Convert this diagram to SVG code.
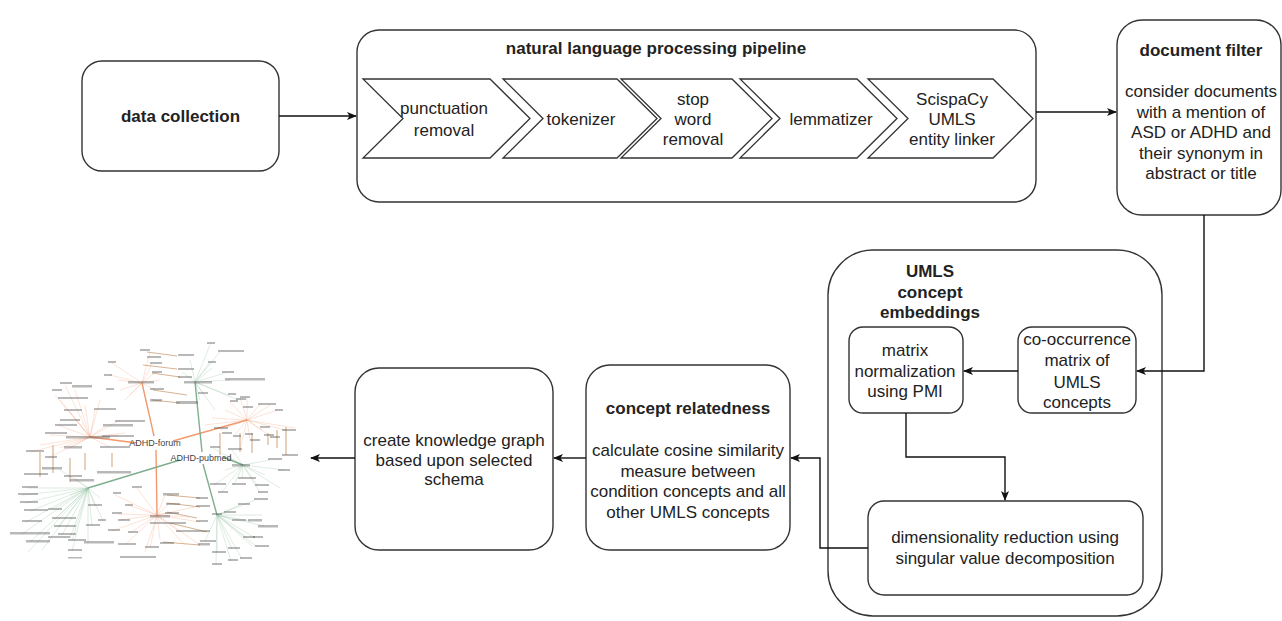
<svg xmlns="http://www.w3.org/2000/svg" width="1282" height="621" viewBox="0 0 1282 621">
<defs>
<marker id="arr" viewBox="0 0 10 10" refX="9" refY="5" markerWidth="10" markerHeight="10" markerUnits="userSpaceOnUse" orient="auto">
<path d="M0,1 L10,5 L0,9 L2.5,5 Z" fill="#111"/>
</marker>
</defs>
<style>
.box{fill:#fff;stroke:#333;stroke-width:1.4}
.chev{fill:#fff;stroke:#333;stroke-width:1.3}
.t{font-family:"Liberation Sans",Arial,sans-serif;font-size:17px;fill:#222;text-anchor:middle}
.b{font-weight:bold}
.conn{fill:none;stroke:#111;stroke-width:1.4;marker-end:url(#arr)}
.so{fill:none;stroke:#f6a27c;stroke-width:0.5;opacity:0.6}
.sg{fill:none;stroke:#8fbf9f;stroke-width:0.5;opacity:0.6}
.mo{fill:none;stroke:#f4996e;stroke-width:1.4}
.mg{fill:none;stroke:#7fae8e;stroke-width:1.4}
.tan{fill:none;stroke:#d8b493;stroke-width:1.2}
.lb rect{fill:#555;opacity:0.42}
.gl{font-family:"Liberation Sans",Arial,sans-serif;font-size:9px;fill:#444;text-anchor:middle}
</style>

<g id="knowledge-graph-picture">
<path class="so" d="M142,383 L112,363 M142,383 L110,375 M142,383 L118,380 M142,383 L150,352 M142,383 L152,364 M142,383 L156,372 M142,383 L120,390 M142,383 L155,390 M142,383 L125,400 M142,383 L130,395 M142,383 L160,380
M90,437 L65,385 M90,437 L55,395 M90,437 L75,390 M90,437 L60,400 M90,437 L70,412 M90,437 L95,410 M90,437 L58,425 M90,437 L50,435 M90,437 L40,445 M90,437 L60,448 M90,437 L105,426 M90,437 L120,420 M90,437 L118,436 M90,437 L125,433 M90,437 L110,447 M90,437 L48,458 M90,437 L70,448 M90,437 L30,452 M90,437 L100,400 M90,437 L85,405
M247,420 L230,402 M247,420 L240,398 M247,420 L247,398 M247,420 L260,404 M247,420 L270,405 M247,420 L278,410 M247,420 L225,410 M247,420 L212,418 M247,420 L220,430 M247,420 L235,435 M247,420 L250,440 M247,420 L262,430 M247,420 L272,437 M247,420 L285,430 M247,420 L295,428 M247,420 L240,450 M247,420 L205,425
M157,515 L115,495 M157,515 L137,488 M157,515 L128,505 M157,515 L118,514 M157,515 L120,520 M157,515 L112,531 M157,515 L130,533 M157,515 L125,545 M157,515 L150,548 M157,515 L145,552 M157,515 L160,522 M157,515 L165,495 M157,515 L168,505 M157,515 L172,513 M157,515 L180,532 M157,515 L160,540 M157,515 L190,517 M157,515 L195,507 M157,515 L200,522 M157,515 L200,545 M157,515 L185,545"/>
<path class="sg" d="M195,382 L210,345 M195,382 L220,352 M195,382 L210,362 M195,382 L212,368 M195,382 L225,373 M195,382 L230,380 M195,382 L202,392 M195,382 L228,395 M195,382 L238,400 M195,382 L190,360 M195,382 L182,372 M195,382 L200,400 M195,382 L215,410
M88,488 L28,488 M88,488 L22,495 M88,488 L25,503 M88,488 L30,511 M88,488 L26,522 M88,488 L22,534 M88,488 L52,510 M88,488 L55,519 M88,488 L58,527 M88,488 L62,535 M88,488 L72,541 M88,488 L30,542 M88,488 L28,552 M88,488 L42,550 M88,488 L70,538 M88,488 L88,543 M88,488 L72,551 M88,488 L95,506 M88,488 L92,526 M88,488 L103,521 M88,488 L100,498 M88,488 L70,495 M88,488 L60,470 M88,488 L75,478
M243,465 L213,448 M243,465 L232,450 M243,465 L238,469 M243,465 L242,478 M243,465 L214,485 M243,465 L234,485 M243,465 L258,486 M243,465 L260,493 M243,465 L222,492 M243,465 L270,460 M243,465 L285,470 M243,465 L280,488 M243,465 L265,475 M243,465 L225,470
M217,515 L232,520 M217,515 L226,513 M217,515 L250,521 M217,515 L264,526 M217,515 L247,538 M217,515 L255,538 M217,515 L257,547 M217,515 L252,546 M217,515 L232,549 M217,515 L217,553 M217,515 L231,561 M217,515 L242,559 M217,515 L216,564 M217,515 L205,541 M217,515 L240,505 M217,515 L255,500 M217,515 L262,515"/>
<path class="tan" d="M147,352 L177,356 M143,365 L177,369 M152,373 L180,377 M153,390 L187,395 M152,400 L180,403
M40,452 L40,477 M53,445 L53,473 M70,458 L70,482 M85,453 L85,470 M112,453 L112,467
M220,433 L220,455 M240,433 L240,452 M252,433 L252,453 M268,433 L268,445 M277,430 L277,448 M286,427 L286,455
M167,495 L200,498 M167,503 L200,507 M167,512 L197,518 M170,523 L207,532 M163,542 L200,545"/>
<path class="mo" d="M90,437 L137,443 M173,441 L247,420 M142,383 L154,436 M156,450 L157,515"/>
<path class="mg" d="M195,382 L202,452 M203,464 L217,515 M88,488 L180,460 M223,457 L243,465"/>
<g class="lb">
<rect x="140" y="349" width="10" height="2"/><rect x="147" y="356" width="14" height="2"/><rect x="178" y="354" width="16" height="2"/><rect x="150" y="362" width="12" height="2"/><rect x="152" y="371" width="10" height="2"/><rect x="178" y="368" width="16" height="2"/><rect x="178" y="376" width="14" height="2"/><rect x="108" y="361" width="8" height="2"/><rect x="104" y="374" width="8" height="2"/><rect x="128" y="381" width="26" height="2.5"/><rect x="106" y="388" width="8" height="2"/><rect x="150" y="388" width="14" height="2"/><rect x="150" y="399" width="12" height="2.5"/><rect x="176" y="401" width="22" height="3"/><rect x="184" y="381" width="28" height="2.5"/><rect x="207" y="342" width="8" height="2"/><rect x="218" y="350" width="26" height="2"/><rect x="208" y="361" width="8" height="2"/><rect x="222" y="371" width="12" height="2"/><rect x="225" y="378" width="40" height="2.5"/><rect x="198" y="392" width="10" height="2"/><rect x="228" y="393" width="8" height="2"/><rect x="236" y="398" width="10" height="2"/>
<rect x="60" y="382" width="12" height="2"/><rect x="52" y="389" width="10" height="2"/><rect x="72" y="385" width="20" height="2.5"/><rect x="58" y="397" width="30" height="2"/><rect x="64" y="409" width="18" height="2"/><rect x="60" y="419" width="20" height="2"/><rect x="94" y="408" width="22" height="2"/><rect x="55" y="424" width="22" height="2"/><rect x="45" y="432" width="22" height="2"/><rect x="66" y="436" width="44" height="2.5"/><rect x="103" y="424" width="30" height="2.5"/><rect x="102" y="435" width="32" height="2"/><rect x="115" y="420" width="30" height="2"/><rect x="100" y="446" width="30" height="2"/><rect x="64" y="446" width="18" height="2.5"/><rect x="26" y="450" width="18" height="2"/><rect x="45" y="456" width="12" height="2"/><rect x="42" y="467" width="20" height="2.5"/><rect x="24" y="473" width="24" height="2"/><rect x="64" y="475" width="18" height="2"/><rect x="70" y="479" width="24" height="2.5"/><rect x="97" y="471" width="34" height="2.5"/>
<rect x="230" y="400" width="8" height="2"/><rect x="240" y="396" width="10" height="2"/><rect x="243" y="406" width="10" height="2"/><rect x="258" y="403" width="10" height="2"/><rect x="268" y="403" width="8" height="2"/><rect x="275" y="409" width="8" height="2"/><rect x="214" y="427" width="14" height="2"/><rect x="222" y="432" width="10" height="2"/><rect x="233" y="435" width="8" height="2"/><rect x="245" y="433" width="8" height="2"/><rect x="250" y="439" width="10" height="2"/><rect x="260" y="426" width="10" height="2"/><rect x="264" y="434" width="10" height="2"/><rect x="270" y="436" width="10" height="2"/><rect x="282" y="429" width="14" height="2"/><rect x="282" y="454" width="16" height="2"/><rect x="232" y="464" width="18" height="2.5"/><rect x="210" y="446" width="10" height="2"/><rect x="228" y="448" width="14" height="2"/><rect x="238" y="477" width="18" height="2"/><rect x="210" y="483" width="16" height="2"/><rect x="232" y="483" width="14" height="2"/><rect x="255" y="484" width="14" height="2"/><rect x="258" y="491" width="10" height="2"/><rect x="218" y="491" width="10" height="2"/><rect x="268" y="458" width="14" height="2"/><rect x="278" y="469" width="12" height="2"/>
<rect x="22" y="486" width="16" height="2"/><rect x="18" y="493" width="20" height="2"/><rect x="20" y="501" width="18" height="2"/><rect x="24" y="509" width="24" height="2"/><rect x="22" y="520" width="20" height="2"/><rect x="10" y="532" width="40" height="2.5"/><rect x="48" y="508" width="14" height="2"/><rect x="52" y="517" width="24" height="2"/><rect x="54" y="525" width="22" height="2"/><rect x="58" y="533" width="18" height="2"/><rect x="68" y="539" width="18" height="2"/><rect x="26" y="540" width="24" height="2.5"/><rect x="48" y="536" width="22" height="2"/><rect x="84" y="541" width="30" height="2.5"/><rect x="68" y="549" width="14" height="2"/><rect x="88" y="504" width="14" height="2"/><rect x="86" y="524" width="14" height="2"/><rect x="98" y="519" width="8" height="2"/>
<rect x="113" y="492" width="8" height="2"/><rect x="132" y="486" width="10" height="2"/><rect x="125" y="504" width="8" height="2"/><rect x="112" y="512" width="10" height="2"/><rect x="118" y="519" width="12" height="2"/><rect x="108" y="529" width="12" height="2"/><rect x="128" y="531" width="10" height="2"/><rect x="118" y="543" width="18" height="2"/><rect x="145" y="546" width="14" height="2"/><rect x="120" y="556" width="36" height="2"/><rect x="150" y="515" width="20" height="2.5"/><rect x="150" y="522" width="36" height="2"/><rect x="163" y="493" width="16" height="2.5"/><rect x="166" y="503" width="14" height="2"/><rect x="165" y="512" width="14" height="2"/><rect x="196" y="497" width="12" height="2"/><rect x="176" y="530" width="34" height="2"/><rect x="196" y="505" width="14" height="2"/><rect x="196" y="520" width="12" height="2"/><rect x="198" y="543" width="12" height="2.5"/><rect x="160" y="542" width="14" height="2"/>
<rect x="212" y="513" width="10" height="2"/><rect x="232" y="519" width="14" height="2"/><rect x="224" y="511" width="12" height="2"/><rect x="248" y="519" width="14" height="2.5"/><rect x="258" y="525" width="20" height="2.5"/><rect x="243" y="536" width="12" height="2"/><rect x="253" y="536" width="10" height="2"/><rect x="255" y="545" width="14" height="2"/><rect x="228" y="547" width="12" height="2"/><rect x="212" y="551" width="14" height="2"/><rect x="228" y="559" width="10" height="2"/><rect x="240" y="557" width="12" height="2"/><rect x="212" y="563" width="10" height="2"/><rect x="200" y="540" width="16" height="2"/><rect x="238" y="503" width="12" height="2"/><rect x="254" y="498" width="14" height="2"/><rect x="68" y="557" width="14" height="1.5"/>
</g>
<text class="gl" x="155" y="446">ADHD-forum</text>
<text class="gl" x="201" y="461">ADHD-pubmed</text>
</g>

<g id="data-collection">
<rect class="box" x="82" y="61" width="197" height="110" rx="20"/>
<text class="t b" x="180.5" y="122">data collection</text>
</g>

<g id="nlp-pipeline">
<rect class="box" x="357" y="30" width="679" height="172" rx="22"/>
<text class="t b" x="656" y="54">natural language processing pipeline</text>
</g>

<g id="punctuation-removal">
<path class="chev" d="M363,79 L490,79 L530,118.5 L490,158 L363,158 L403,118.5 Z"/>
<text class="t" x="444" y="114">punctuation</text>
<text class="t" x="444" y="136">removal</text>
</g>
<g id="tokenizer">
<path class="chev" d="M503,79 L617,79 L657,118.5 L617,158 L503,158 L543,118.5 Z"/>
<text class="t" x="581" y="125">tokenizer</text>
</g>
<g id="stop-word-removal">
<path class="chev" d="M621,79 L732,79 L772,118.5 L732,158 L621,158 L661,118.5 Z"/>
<text class="t" x="693" y="105">stop</text>
<text class="t" x="693" y="125">word</text>
<text class="t" x="693" y="145">removal</text>
</g>
<g id="lemmatizer">
<path class="chev" d="M740,79 L857,79 L897,118.5 L857,158 L740,158 L780,118.5 Z"/>
<text class="t" x="831" y="125">lemmatizer</text>
</g>
<g id="entity-linker">
<path class="chev" d="M868,79 L993,79 L1033,118.5 L993,158 L868,158 L908,118.5 Z"/>
<text class="t" x="952" y="105">ScispaCy</text>
<text class="t" x="952" y="125">UMLS</text>
<text class="t" x="952" y="145">entity linker</text>
</g>

<g id="document-filter">
<rect class="box" x="1117" y="20" width="164" height="195" rx="25"/>
<text class="t b" x="1201" y="56">document filter</text>
<text class="t" x="1201" y="97">consider documents</text>
<text class="t" x="1201" y="117.5">with a mention of</text>
<text class="t" x="1201" y="138">ASD or ADHD and</text>
<text class="t" x="1201" y="159">their synonym in</text>
<text class="t" x="1201" y="179">abstract or title</text>
</g>

<g id="umls-concept-embeddings">
<rect class="box" x="828" y="250" width="334" height="366" rx="45"/>
<text class="t b" x="930" y="277">UMLS</text>
<text class="t b" x="930" y="298">concept</text>
<text class="t b" x="930" y="318">embeddings</text>
</g>

<g id="matrix-normalization">
<rect class="box" x="849" y="327" width="114" height="86" rx="14"/>
<text class="t" x="905" y="356">matrix</text>
<text class="t" x="905" y="377">normalization</text>
<text class="t" x="905" y="397">using PMI</text>
</g>

<g id="co-occurrence-matrix">
<rect class="box" x="1018" y="327" width="118" height="86" rx="14"/>
<text class="t" x="1077" y="345">co-occurrence</text>
<text class="t" x="1077" y="366">matrix of</text>
<text class="t" x="1077" y="388">UMLS</text>
<text class="t" x="1077" y="408">concepts</text>
</g>

<g id="dimensionality-reduction">
<rect class="box" x="868" y="501" width="275" height="94" rx="16"/>
<text class="t" x="1005" y="543">dimensionality reduction using</text>
<text class="t" x="1005" y="564">singular value decomposition</text>
</g>

<g id="concept-relatedness">
<rect class="box" x="586" y="365" width="204" height="185" rx="24"/>
<text class="t b" x="688" y="414">concept relatedness</text>
<text class="t" x="688" y="456">calculate cosine similarity</text>
<text class="t" x="688" y="477">measure between</text>
<text class="t" x="688" y="497">condition concepts and all</text>
<text class="t" x="688" y="518">other UMLS concepts</text>
</g>

<g id="create-knowledge-graph">
<rect class="box" x="355" y="368" width="198" height="182" rx="24"/>
<text class="t" x="454" y="446">create knowledge graph</text>
<text class="t" x="454" y="466">based upon selected</text>
<text class="t" x="454" y="485">schema</text>
</g>

<g id="connectors">
<path class="conn" d="M279,116 L356,116"/>
<path class="conn" d="M1036,112 L1116,112"/>
<path class="conn" d="M1204,215 L1204,371 L1137,371"/>
<path class="conn" d="M1018,371 L964,371"/>
<path class="conn" d="M906,413 L906,457 L1005,457 L1005,500"/>
<path class="conn" d="M868,548 L820,548 L820,458 L791,458"/>
<path class="conn" d="M586,458 L554,458"/>
<path class="conn" d="M355,458 L311,458"/>
</g>
</svg>
